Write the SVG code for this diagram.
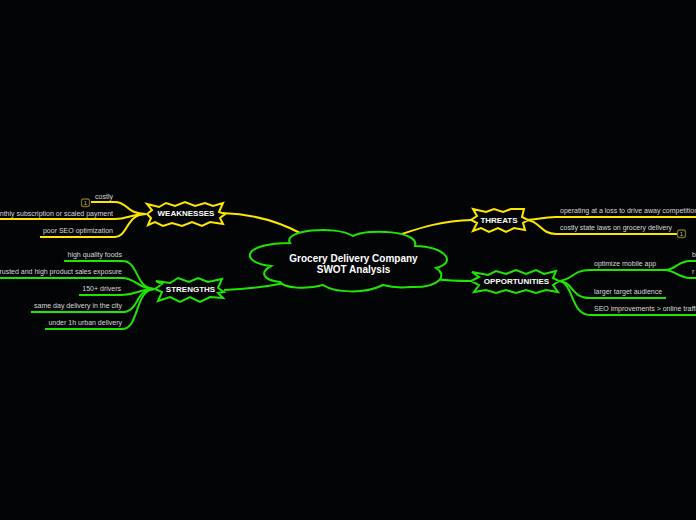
<svg xmlns="http://www.w3.org/2000/svg" width="696" height="520" viewBox="0 0 696 520">
<style>
text{font-family:"Liberation Sans",Arial,sans-serif;fill:#fff}
.l{font-size:7px;fill:#d8d8d8;text-anchor:end}
.r{font-size:7px;fill:#d8d8d8}
.n{font-size:8px;font-weight:bold;text-anchor:middle}
.c{font-size:10px;font-weight:bold;text-anchor:middle}
.y,.g{fill:none;stroke-width:2}
.y{stroke:#ffe600}.g{stroke:#1fe600}
.s{fill:#030406;stroke-width:2}
.b{fill:none;stroke:#7a6a10;stroke-width:1.300}
.i{font-size:6px;fill:#bbb;text-anchor:middle}
</style>
<rect width="696" height="520" fill="#030406"/>
<g id="connectors">
<path class="y" d="M302 234C280 222 255 214 222 213"/>
<path class="y" d="M91 202H115C128 202 126 214 146 214"/>
<path class="y" d="M0 219H115C128 219 130 214 146 214"/>
<path class="y" d="M40 237H115C128 237 126 214 146 214"/>
<path class="g" d="M285 283C265 287 245 289 224 290"/>
<path class="g" d="M64 261H122C140 261 134 289 155 289"/>
<path class="g" d="M0 278H122C136 278 138 289 155 289"/>
<path class="g" d="M79 295H122C136 295 138 289 155 289"/>
<path class="g" d="M31 312H122C140 312 134 289 155 289"/>
<path class="g" d="M45 329H122C140 329 134 289 155 289"/>
<path class="y" d="M402 234C420 228 440 221 472 220"/>
<path class="y" d="M525 220C540 220 540 217 556 217H696"/>
<path class="y" d="M525 220C540 220 540 234 556 234H677"/>
<path class="g" d="M436 279C448 281 458 281 473 281"/>
<path class="g" d="M558 281C572 281 572 270 590 270H665"/>
<path class="g" d="M665 270C675 270 678 261 690 261H696"/>
<path class="g" d="M665 270C675 270 678 278 690 278H696"/>
<path class="g" d="M558 281C574 281 570 298 590 298H666"/>
<path class="g" d="M558 281C574 281 570 315 590 315H696"/>
</g>
<g id="center">
<path class="s" stroke="#1fe600" d="M290 243C282 230 335 225 353 236C368 228 420 231 415 246C445 247 458 262 436 268C448 275 440 288 411 287C400 288 390 287 383 285C365 294 335 293 323 285C305 290 285 288 280 282C262 280 260 272 271 266C238 262 243 243 290 243Z"/>
<text class="c" x="353.500" y="262">Grocery Delivery Company</text>
<text class="c" x="353.500" y="273">SWOT Analysis</text>
</g>
<g id="weaknesses">
<path class="s" stroke="#ffe600" d="M147 204L159 207L166 203L175 206L185 202L195 206L205 203L213 206L223 203L219 212L225 214L220 218L223 224L210 222L202 226L192 222L182 226L172 223L163 226L155 222L148 225L151 218L147 214L152 210Z"/>
<text class="n" x="186" y="216">WEAKNESSES</text>
</g>
<g id="w1"><text class="l" x="113" y="199">costly</text><rect class="b" x="81.500" y="199" width="8" height="7.500" rx="2"/><text class="i" x="85.500" y="205">1</text></g>
<g id="w2"><text class="l" x="113" y="216">monthly subscription or scaled payment</text></g>
<g id="w3"><text class="l" x="113" y="233">poor SEO optimization</text></g>
<g id="strengths">
<path class="s" stroke="#1fe600" d="M156 281L170 283L178 278L189 282L198 278L208 282L222 279L218 288L224 292L218 293L223 298L210 297L200 302L190 297L180 302L170 297L158 301L162 292L155 289L162 284Z"/>
<text class="n" x="190.500" y="292">STRENGTHS</text>
</g>
<g id="s1"><text class="l" x="122" y="257">high quality foods</text></g>
<g id="s2"><text class="l" x="122" y="274">trusted and high product sales exposure</text></g>
<g id="s3"><text class="l" x="121" y="291">150+ drivers</text></g>
<g id="s4"><text class="l" x="122" y="308">same day delivery in the city</text></g>
<g id="s5"><text class="l" x="122" y="325">under 1h urban delivery</text></g>
<g id="threats">
<path class="s" stroke="#ffe600" d="M473 209L486 212L494 209L503 212L511 209L524 209L522 217L528 220L523 223L525 230L514 228L506 232L498 228L489 232L481 228L473 231L477 223L471 220L477 216Z"/>
<text class="n" x="499" y="222.500">THREATS</text>
</g>
<g id="t1"><text class="r" x="560" y="213">operating at a loss to drive away competition</text></g>
<g id="t2"><text class="r" x="560" y="230">costly state laws on grocery delivery</text><rect class="b" x="677.500" y="230" width="8" height="7.500" rx="2"/><text class="i" x="681.500" y="236">1</text></g>
<g id="opportunities">
<path class="s" stroke="#1fe600" d="M472 272L488 275L496 271L506 274L516 270L526 274L536 270L544 274L556 271L553 278L559 281L553 285L558 292L546 290L536 293L526 290L516 293L506 290L496 293L486 290L474 292L479 285L471 281L479 277Z"/>
<text class="n" x="516.500" y="283.500">OPPORTUNITIES</text>
</g>
<g id="o1"><text class="r" x="594" y="266">optimize mobile app</text></g>
<g id="o1a"><text class="r" x="692" y="257">b</text></g>
<g id="o1b"><text class="r" x="692" y="274">r</text></g>
<g id="o2"><text class="r" x="594" y="294">larger target audience</text></g>
<g id="o3"><text class="r" x="594" y="311">SEO improvements &gt; online traffic</text></g>
</svg>
